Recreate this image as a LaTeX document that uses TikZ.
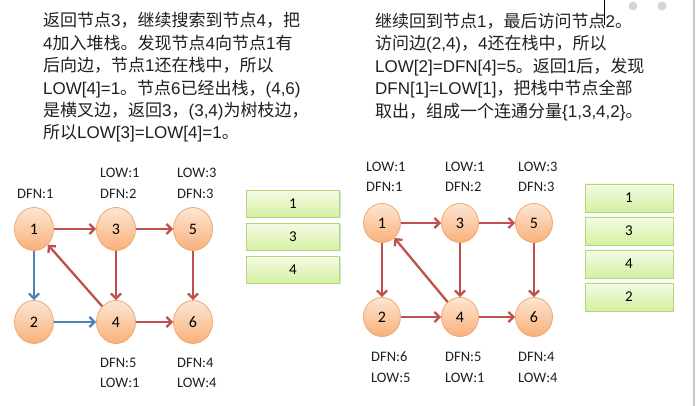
\documentclass[tikz,border=0pt]{standalone}
\usepackage{fontspec}
\setmainfont{Carlito}
\newfontfamily\cjk{Noto Sans CJK SC}
\newfontfamily\arial{Liberation Sans}
\newcommand\lat[1]{{\arial #1}}
\usepackage{xcolor}
\usepackage{tikz}
\usetikzlibrary{arrows.meta, positioning, shapes.geometric, shadows}

\definecolor{nodetop}{HTML}{FDE6D2}
\definecolor{nodebot}{HTML}{F8B07A}
\definecolor{nodeline}{HTML}{F2A76E}
\definecolor{edgered}{HTML}{C0504D}
\definecolor{edgeblue}{HTML}{4F81BD}
\definecolor{stacktop}{HTML}{F4FBE4}
\definecolor{stackbot}{HTML}{D5EFA2}
\definecolor{stackline}{HTML}{B3D67C}
\definecolor{txtgray}{HTML}{1F1F1F}

\begin{document}
\begin{tikzpicture}[
    x=1pt, y=-1pt,
    vtx/.style={
        ellipse,
        draw=nodeline,
        line width=0.8pt,
        top color=nodetop,
        bottom color=nodebot,
        minimum width=39pt,
        minimum height=43pt,
        inner sep=0pt,
        font=\fontsize{16}{16}\selectfont,
        text=black
    },
    vtxs/.style={vtx, minimum width=37pt, minimum height=39pt},
    stackbox/.style={
        rectangle,
        draw=stackline,
        line width=0.8pt,
        top color=stacktop,
        bottom color=stackbot,
        drop shadow={shadow xshift=1pt, shadow yshift=-1pt, opacity=0.25},
        minimum width=93pt,
        minimum height=27pt,
        inner sep=0pt,
        font=\fontsize{15}{15}\selectfont
    },
    stackboxs/.style={stackbox, minimum width=88pt, minimum height=28pt},
    info/.style={anchor=west, inner sep=0pt, text=txtgray, font=\fontsize{14.5}{14.5}\selectfont},
    para/.style={anchor=north west, inner sep=0pt, align=left, text=txtgray,
        font=\cjk\fontsize{17}{22.4}\selectfont},
    redarrow/.style={-{Straight Barb[length=5pt, width=10pt]}, line width=2.3pt, draw=edgered},
    bluearrow/.style={redarrow, draw=edgeblue}
]
\useasboundingbox (0,0) rectangle (697,406);

% slide leftovers
\draw[gray!45, line width=1.5pt] (694,0) -- (694,406);
\fill[blue!12!gray!30] (633,6) circle (4.5pt) (662,6) circle (4.5pt);
\draw[black, line width=0.7pt] (604,0) -- (604,25);

% explanations
\node[para] (textleft) at (43,12.5) {返回节点\lat{3}，继续搜索到节点\lat{4}，把\\\lat{4}加入堆栈。发现节点\lat{4}向节点\lat{1}有\\后向边，节点\lat{1}还在栈中，所以\\\lat{LOW[4]=1}。节点\lat{6}已经出栈，\lat{(4,6)}\\是横叉边，返回\lat{3}，\lat{(3,4)}为树枝边，\\所以\lat{LOW[3]=LOW[4]=1}。};
\node[para] (textright) at (375,13) {继续回到节点\lat{1}，最后访问节点\lat{2}。\\访问边\lat{(2,4)}，\lat{4}还在栈中，所以\\\lat{LOW[2]=DFN[4]=5}。返回\lat{1}后，发现\\\lat{DFN[1]=LOW[1]}，把栈中节点全部\\取出，组成一个连通分量\lat{\{1,3,4,2\}}。};

% left graph
\node[vtx] (a1) at (34,229) {1};
\node[vtx] (a3) at (116,229) {3};
\node[vtx] (a5) at (193,229) {5};
\node[vtx] (a2) at (34,322) {2};
\node[vtx] (a4) at (116,322) {4};
\node[vtx] (a6) at (193,322) {6};

\node[info] (a1dfn) at (17,194) {DFN:1};
\node[info] (a3low) at (100,173) {LOW:1};
\node[info] (a3dfn) at (100,194) {DFN:2};
\node[info] (a5low) at (177,173) {LOW:3};
\node[info] (a5dfn) at (177,194) {DFN:3};
\node[info] (a4dfn) at (100,363) {DFN:5};
\node[info] (a4low) at (100,383) {LOW:1};
\node[info] (a6dfn) at (177,363) {DFN:4};
\node[info] (a6low) at (177,383) {LOW:4};

\draw[redarrow] (a1) -- (a3);
\draw[redarrow] (a3) -- (a5);
\draw[redarrow] (a3) -- (a4);
\draw[redarrow] (a5) -- (a6);
\draw[redarrow] (a4) -- (a6);
\draw[redarrow] (a4) -- (a1);
\draw[bluearrow] (a1) -- (a2);
\draw[bluearrow] (a2) -- (a4);

% left stack
\node[stackbox] (sa1) at (293,204) {1};
\node[stackbox] (sa3) at (293,237) {3};
\node[stackbox] (sa4) at (293,270) {4};

% right graph
\node[vtxs] (b1) at (382,223) {1};
\node[vtxs] (b3) at (460,223) {3};
\node[vtxs] (b5) at (534,223) {5};
\node[vtxs] (b2) at (382,317) {2};
\node[vtxs] (b4) at (460,317) {4};
\node[vtxs] (b6) at (534,317) {6};

\node[info] (b1low) at (366,167) {LOW:1};
\node[info] (b1dfn) at (366,187) {DFN:1};
\node[info] (b3low) at (445,167) {LOW:1};
\node[info] (b3dfn) at (445,187) {DFN:2};
\node[info] (b5low) at (518,167) {LOW:3};
\node[info] (b5dfn) at (518,187) {DFN:3};
\node[info] (b2dfn) at (371,357) {DFN:6};
\node[info] (b2low) at (371,378) {LOW:5};
\node[info] (b4dfn) at (445,357) {DFN:5};
\node[info] (b4low) at (445,378) {LOW:1};
\node[info] (b6dfn) at (518,357) {DFN:4};
\node[info] (b6low) at (518,378) {LOW:4};

\draw[redarrow] (b1) -- (b3);
\draw[redarrow] (b3) -- (b5);
\draw[redarrow] (b3) -- (b4);
\draw[redarrow] (b5) -- (b6);
\draw[redarrow] (b4) -- (b6);
\draw[redarrow] (b4) -- (b1);
\draw[redarrow] (b1) -- (b2);
\draw[redarrow] (b2) -- (b4);

% right stack
\node[stackboxs] (sb1) at (629,198) {1};
\node[stackboxs] (sb3) at (629,231) {3};
\node[stackboxs] (sb4) at (629,264) {4};
\node[stackboxs] (sb2) at (629,297) {2};

\end{tikzpicture}
\end{document}
